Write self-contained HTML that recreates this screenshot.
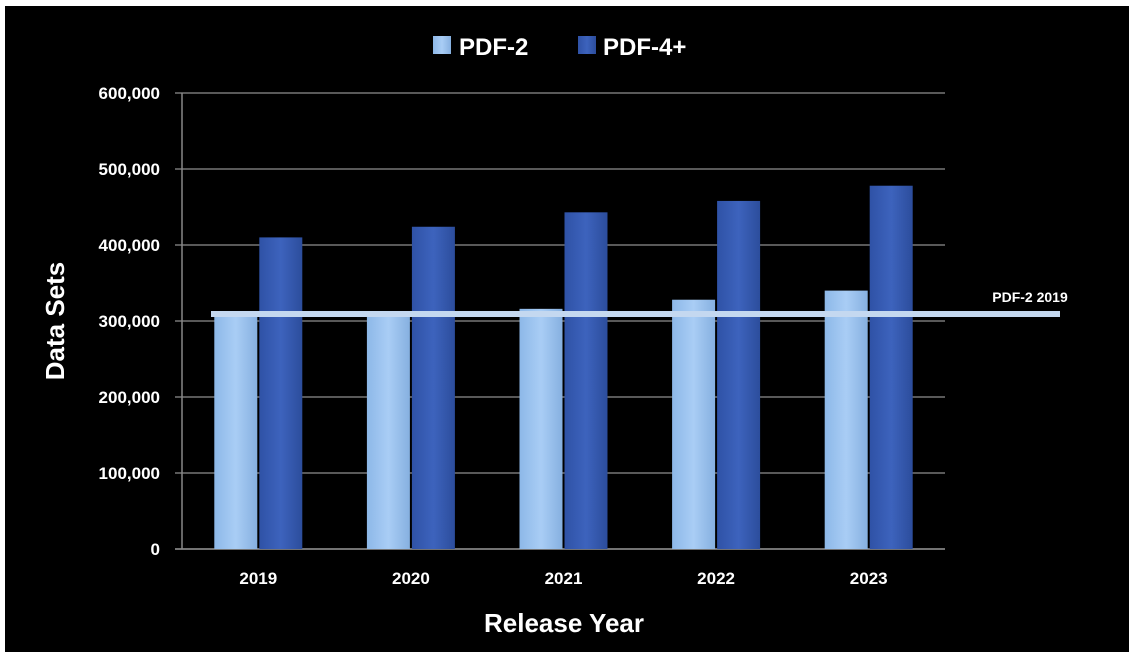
<!DOCTYPE html>
<html><head><meta charset="utf-8"><style>
body{margin:0;background:#fff;width:1138px;height:662px;overflow:hidden}
svg{display:block;font-family:"Liberation Sans",sans-serif}
</style></head><body>
<svg width="1138" height="662">
<defs>
<linearGradient id="g2" x1="0" x2="1"><stop offset="0" stop-color="#8db8e8"/><stop offset="0.5" stop-color="#a9cdf5"/><stop offset="1" stop-color="#86b0e0"/></linearGradient>
<linearGradient id="g4" x1="0" x2="1"><stop offset="0" stop-color="#2f52a6"/><stop offset="0.5" stop-color="#3d63bd"/><stop offset="1" stop-color="#2c4d9c"/></linearGradient>
</defs>
<rect x="5" y="6" width="1124" height="646" fill="#000"/>
<g id="grid"></g>
<g id="bars"></g>
<g id="xlabels"></g>
<rect x="211" y="311" width="849" height="6" fill="#c4d8f0"/>
<text x="1030" y="302" fill="#fff" font-size="14" font-weight="bold" text-anchor="middle">PDF-2 2019</text>
<text transform="translate(64,321) rotate(-90)" fill="#fff" font-size="26" font-weight="bold" text-anchor="middle">Data Sets</text>
<text x="564" y="632" fill="#fff" font-size="26" font-weight="bold" text-anchor="middle">Release Year</text>
<g>
<rect x="433" y="36" width="18" height="18" fill="url(#g2)"/>
<text x="459" y="55" fill="#fff" font-size="24" font-weight="bold">PDF-2</text>
<rect x="578" y="36" width="18" height="18" fill="url(#g4)"/>
<text x="603" y="55" fill="#fff" font-size="24" font-weight="bold">PDF-4+</text>
</g>
</svg>
<script>
const categories=["2019","2020","2021","2022","2023"];
const pdf2=[306000,309000,316000,328000,340000];
const pdf4=[410000,424000,443000,458000,478000];
const yTicks=[0,100000,200000,300000,400000,500000,600000];
const NS="http://www.w3.org/2000/svg";
const x0=182,x1=945,y0=549,yMax=600000,yTop=93;
const y=v=>y0-(v/yMax)*(y0-yTop);
const band=(x1-x0)/categories.length;
const cx=i=>x0+band*(i+0.5);
function mk(t,a,p){const e=document.createElementNS(NS,t);for(const k in a)e.setAttribute(k,a[k]);p.appendChild(e);return e;}
const grid=document.getElementById('grid');
yTicks.forEach(v=>{
 const l=mk('line',{x1:175,x2:x1,y1:y(v),y2:y(v),stroke:v===0?'#999':'#777','stroke-width':1.5},grid);
 
 
 const t=mk('text',{x:160,y:y(v)+6,fill:'#fff','font-size':17,'font-weight':'bold','text-anchor':'end'},grid);
 t.textContent=v.toLocaleString('en-US');
 
 
});
const ax=mk('line',{x1:x0,x2:x0,y1:yTop,y2:y0,stroke:'#888','stroke-width':1.5},grid);


const bars=document.getElementById('bars'),xl=document.getElementById('xlabels');
const bw=43;
categories.forEach((c,i)=>{
 const b1=mk('rect',{x:cx(i)-bw-1,y:y(pdf2[i]),width:bw,height:y0-y(pdf2[i]),fill:'url(#g2)'},bars);
 
 
 const b2=mk('rect',{x:cx(i)+1,y:y(pdf4[i]),width:bw,height:y0-y(pdf4[i]),fill:'url(#g4)'},bars);
 
 
 const t=mk('text',{x:cx(i),y:584,fill:'#fff','font-size':17,'font-weight':'bold','text-anchor':'middle'},xl);
 t.textContent=c;
 
 
});
</script>
</body></html>
